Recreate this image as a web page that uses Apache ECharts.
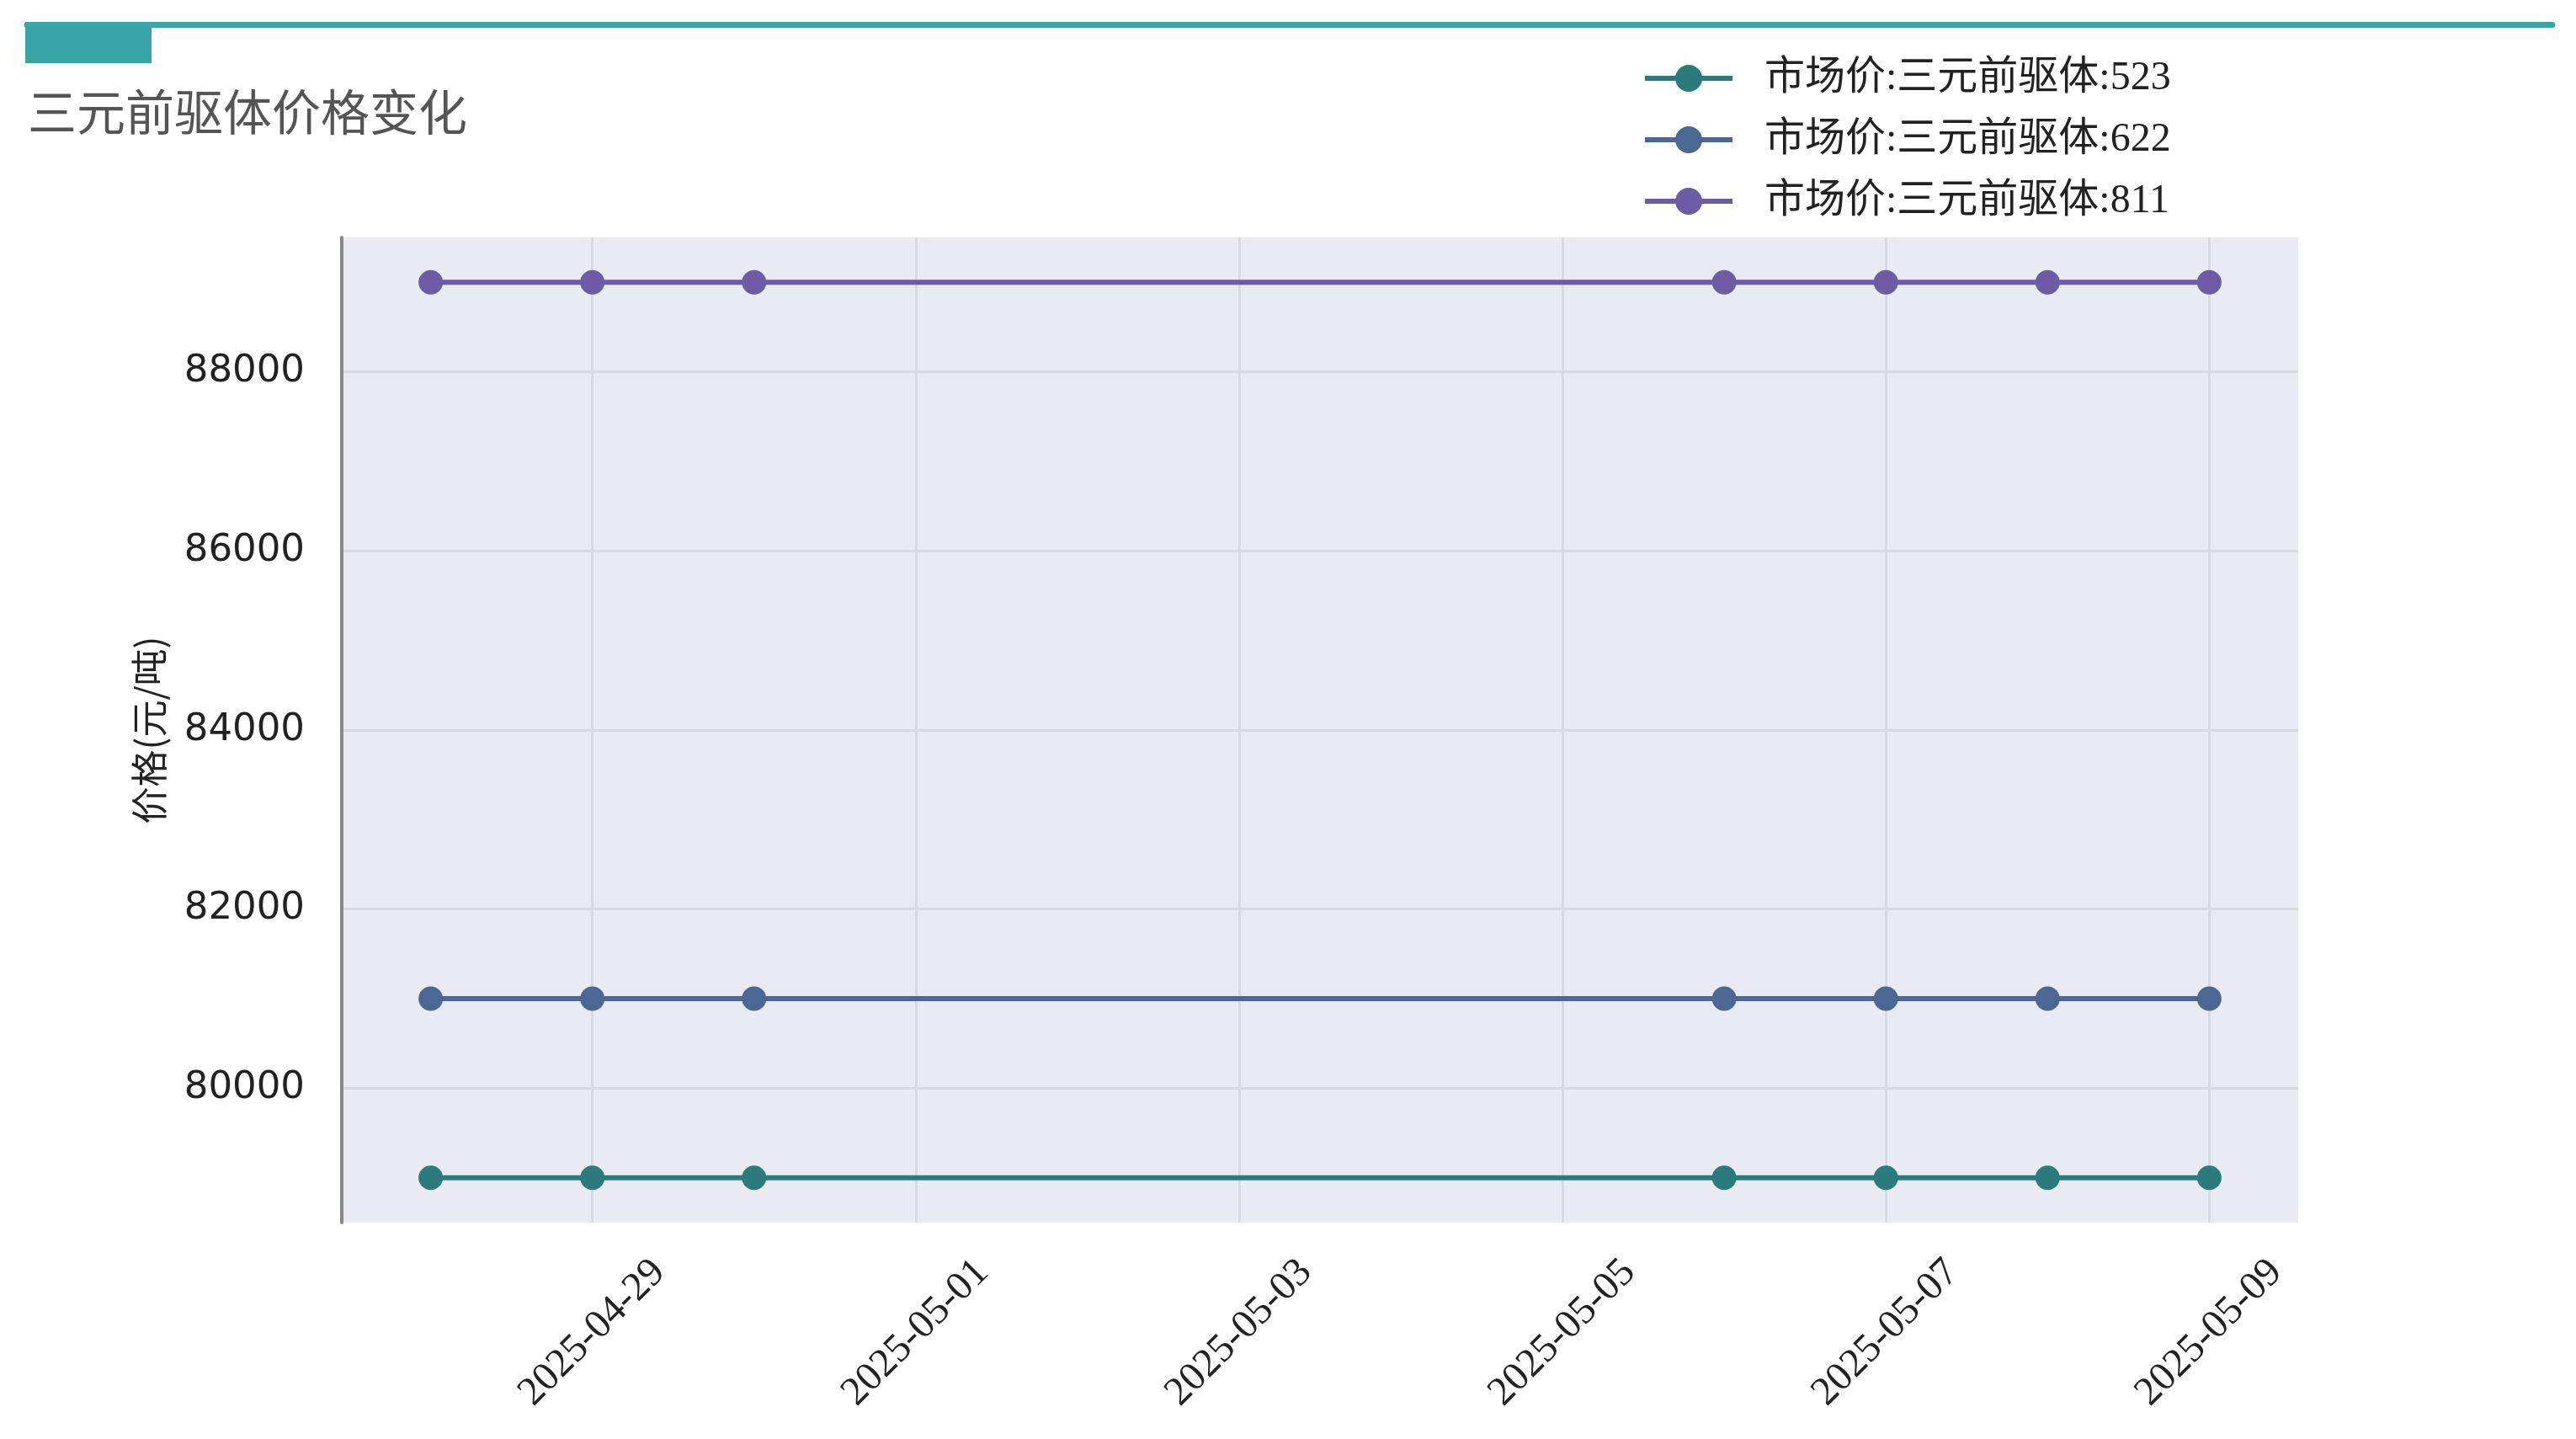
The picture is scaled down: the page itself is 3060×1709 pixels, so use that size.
<!DOCTYPE html>
<html>
<head>
<meta charset="utf-8">
<script src="https://cdn.jsdelivr.net/npm/echarts@6/dist/echarts.min.js"></script>
<style>
html,body{margin:0;padding:0;background:#fff;}
#chart{width:3060px;height:1709px;}
</style>
</head>
<body>
<div id="chart"></div>
<script>
// ---- data ----
const dates = ['2025-04-28','2025-04-29','2025-04-30','2025-05-06','2025-05-07','2025-05-08','2025-05-09'];
const price523 = [79000, 79000, 79000, 79000, 79000, 79000, 79000];
const price622 = [81000, 81000, 81000, 81000, 81000, 81000, 81000];
const price811 = [89000, 89000, 89000, 89000, 89000, 89000, 89000];
const seriesNames = ['市场价:三元前驱体:523', '市场价:三元前驱体:622', '市场价:三元前驱体:811'];
const xTickDates = ['2025-04-29','2025-05-01','2025-05-03','2025-05-05','2025-05-07','2025-05-09'];
const yTicks = [80000, 82000, 84000, 86000, 88000];
const titleText = '三元前驱体价格变化';
const yAxisName = '价格(元/吨)';

// ---- helpers ----
const DAY = 86400000;
function ts(d){ const p = d.split('-').map(Number); return Date.UTC(p[0], p[1]-1, p[2]); }
function fmt(v){ return new Date(v).toISOString().slice(0,10); }
const xs = dates.map(ts);
const xMin = xs[0] - 0.55*DAY, xMax = xs[xs.length-1] + 0.55*DAY;
const yAll = price523.concat(price622, price811);
const yLo = Math.min.apply(null, yAll), yHi = Math.max.apply(null, yAll);
const yPad = (yHi - yLo) * 0.05;

const colors = ['#2b7b7c', '#4b6794', '#6b5ca5'];
const vals = [price523, price622, price811];

const chart = echarts.init(document.getElementById('chart'), null, {renderer:'canvas'});
chart.setOption({
  backgroundColor: '#ffffff',
  animation: false,
  color: colors,
  graphic: [
    {type:'line', shape:{x1:32, y1:29.5, x2:3032, y2:29.5}, style:{stroke:'#38a4a5', lineWidth:7, lineCap:'round'}},
    {type:'rect', shape:{x:30, y:26, width:150, height:49}, style:{fill:'#38a4a5'}},
    {type:'text', left:33, top:104, style:{text:titleText, font:'58px "Noto Sans CJK SC"', fill:'#555555'}}
  ],
  legend: {
    orient: 'vertical',
    left: 1946,
    top: 64,
    itemWidth: 104,
    itemHeight: 40,
    itemGap: 25,
    data: seriesNames,
    lineStyle: {width: 6},
    textStyle: {fontFamily:'Liberation Serif, Noto Sans CJK SC', fontSize:48, lineHeight:48, color:'#222222', padding:[0,0,0,33]}
  },
  grid: {
    left: 406, right: 330, top: 282, bottom: 257,
    show: true, backgroundColor: '#eaeaf2', borderWidth: 0
  },
  xAxis: {
    type: 'value',
    min: xMin, max: xMax,
    axisLine: {show:false},
    axisTick: {show:false, customValues: xTickDates.map(ts)},
    splitLine: {show:true, lineStyle:{color:'#d9d9e0', width:3}},
    axisLabel: {
      customValues: xTickDates.map(ts),
      formatter: function(v){ return '{d|' + fmt(v) + '}'; },
      rotate: 45, align:'center', verticalAlign:'middle', margin: 131,
      fontFamily: 'Liberation Serif', fontSize: 48, color:'#222222',
      rich: {d: {fontFamily: 'Liberation Serif', fontSize: 48, color: '#222222'}}
    }
  },
  yAxis: {
    type: 'value',
    min: yLo - yPad, max: yHi + yPad,
    name: yAxisName, nameLocation:'middle', nameRotate: 90, nameGap: 207,
    nameTextStyle: {fontFamily:'Noto Sans CJK SC', fontSize:44, color:'#222222'},
    axisLine: {show:true, lineStyle:{color:'#888888', width:4}},
    axisTick: {show:false, customValues: yTicks},
    splitLine: {show:true, lineStyle:{color:'#d9d9e0', width:3}},
    axisLabel: {customValues: yTicks, margin: 44, formatter: function(v){ return String(v); },
      fontFamily:'DejaVu Sans', fontSize:45, color:'#222222'}
  },
  series: seriesNames.map(function(name, i){
    return {
      name: name,
      type: 'line',
      data: xs.map(function(x, j){ return [x, vals[i][j]]; }),
      symbol: 'circle', symbolSize: 29, showSymbol: true,
      lineStyle: {width: 6, color: colors[i]},
      itemStyle: {color: colors[i]}
    };
  })
});
</script>
</body>
</html>
